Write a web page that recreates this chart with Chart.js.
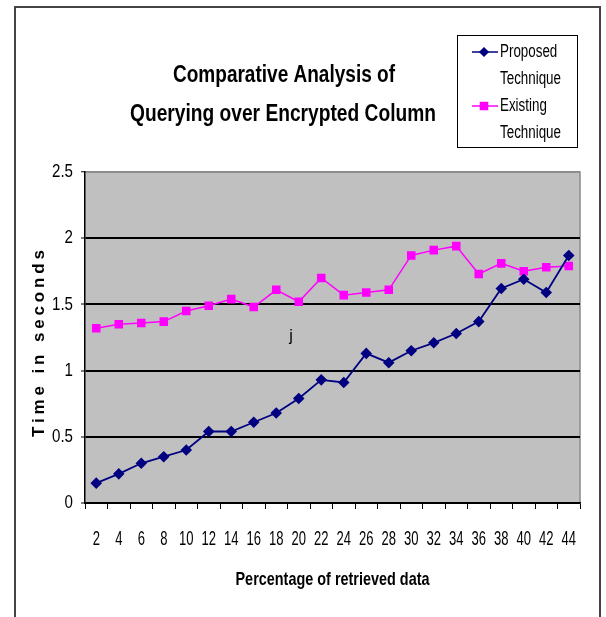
<!DOCTYPE html>
<html>
<head>
<meta charset="utf-8">
<script src="https://cdn.jsdelivr.net/npm/chart.js@4/dist/chart.umd.min.js"></script>
<style>
  html, body { margin: 0; padding: 0; background: #fff; }
  #wrap { width: 606px; height: 617px; position: relative; }
</style>
</head>
<body>
<div id="wrap"><canvas id="c" width="606" height="617"></canvas></div>
<script>
// ---- data ----
const categories = ['2','4','6','8','10','12','14','16','18','20','22','24','26','28','30','32','34','36','38','40','42','44'];
const proposed = [0.15,0.22,0.30,0.35,0.40,0.54,0.54,0.61,0.68,0.79,0.93,0.91,1.13,1.06,1.15,1.21,1.28,1.37,1.62,1.69,1.59,1.87];
const existing = [1.32,1.35,1.36,1.37,1.45,1.49,1.54,1.48,1.61,1.52,1.70,1.57,1.59,1.61,1.87,1.91,1.94,1.73,1.81,1.75,1.78,1.79];
const yTicks = [0, 0.5, 1, 1.5, 2, 2.5];
const titleLines = ['Comparative Analysis of', 'Querying over Encrypted Column'];
const legendLines = [['Proposed', 'Technique'], ['Existing', 'Technique']];
const seriesNames = ['Proposed Technique', 'Existing Technique'];
const xTitle = 'Percentage of retrieved data';
const yTitle = 'Time in seconds';
const strayText = 'j';

const BASE = "'Liberation Sans'";
const NAVY = '#000080';
const MAGENTA = '#FF00FF';

// ---- condensed text rendering (reference uses a narrow face) ----
const mctx = document.createElement('canvas').getContext('2d');
function measure(font, text) { mctx.font = font + ' ' + BASE; return mctx.measureText(text).width; }
const NARROW_CFG = {
  1: { k: 14.5 / measure('21px', '30'), ls: 0, dx: 0 },                          // x ticks
  2: { k: 21 / measure('19px', '2.5'), ls: 0, dx: 0 },                           // y ticks
  3: { k: 194 / measure('bold 19px', xTitle), ls: 0, dx: 0 },                    // x title
  4: { k: 1, ls: Math.max(0, (187 - measure('bold 17px', yTitle)) / 14), dx: -4 } // y title
};
const origFill = CanvasRenderingContext2D.prototype.fillText;
CanvasRenderingContext2D.prototype.fillText = function(text, x, y, maxWidth) {
  const m = /NX(\d+)/.exec(this.font);
  if (m && NARROW_CFG[m[1]]) {
    const cfg = NARROW_CFG[m[1]];
    this.save();
    this.translate(x + cfg.dx, y);
    this.scale(cfg.k, 1);
    if (cfg.ls) this.letterSpacing = cfg.ls.toFixed(2) + 'px';
    origFill.call(this, text, 0, 0);
    this.restore();
    return;
  }
  return origFill.call(this, text, x, y, maxWidth);
};
function fam(n) { return 'NX' + n + ', ' + BASE + ', Arial, sans-serif'; }

function drawFit(ctx, text, x, y, target) {
  const w = ctx.measureText(text).width;
  const k = target / w;
  ctx.save();
  ctx.translate(x, y);
  ctx.scale(k, 1);
  origFill.call(ctx, text, 0, 0);
  ctx.restore();
}

const decor = {
  id: 'decor',
  beforeDraw(chart) {
    const {ctx, chartArea: a} = chart;
    ctx.save();
    ctx.fillStyle = '#C0C0C0';
    ctx.fillRect(a.left, a.top, a.right - a.left, a.bottom - a.top);
    ctx.strokeStyle = '#8a8a8a';
    ctx.lineWidth = 1.5;
    ctx.beginPath();
    ctx.moveTo(a.left, a.top);
    ctx.lineTo(a.right, a.top);
    ctx.lineTo(a.right, a.bottom);
    ctx.stroke();
    ctx.restore();
  },
  afterDraw(chart) {
    const {ctx} = chart;
    ctx.save();
    // outer frame
    ctx.strokeStyle = '#444';
    ctx.lineWidth = 2;
    ctx.strokeRect(15, 7, 585, 700);
    // title
    ctx.fillStyle = '#000';
    ctx.textAlign = 'center';
    ctx.textBaseline = 'alphabetic';
    ctx.font = 'bold 23px ' + BASE;
    drawFit(ctx, titleLines[0], 284, 82, 222);
    drawFit(ctx, titleLines[1], 283, 121, 306);
    // legend box
    ctx.strokeStyle = '#000';
    ctx.lineWidth = 1;
    ctx.strokeRect(457.5, 35.5, 120, 112);
    const items = [
      {c: NAVY, s: 'rectRot', r: 4, y: 52, words: legendLines[0]},
      {c: MAGENTA, s: 'rect', r: 5, y: 106, words: legendLines[1]}
    ];
    ctx.font = '18px ' + BASE;
    const kLeg = 61 / ctx.measureText('Technique').width;
    ctx.textAlign = 'left';
    ctx.textBaseline = 'middle';
    items.forEach(it => {
      ctx.strokeStyle = it.c;
      ctx.lineWidth = 1.5;
      ctx.beginPath();
      ctx.moveTo(472, it.y);
      ctx.lineTo(498, it.y);
      ctx.stroke();
      ctx.fillStyle = it.c;
      Chart.helpers.drawPoint(ctx, {pointStyle: it.s, radius: it.r, borderWidth: 1}, 484, it.y);
      ctx.fillStyle = '#000';
      [0, 1].forEach(j => {
        const t = it.words[j];
        drawFit(ctx, t, 500, it.y + j * 27, ctx.measureText(t).width * kLeg);
      });
    });
    // stray character in the reference
    ctx.font = '16px ' + BASE;
    ctx.textAlign = 'center';
    ctx.textBaseline = 'middle';
    origFill.call(ctx, strayText, 291, 337);
    ctx.restore();
  }
};

new Chart(document.getElementById('c'), {
  type: 'line',
  data: {
    labels: categories,
    datasets: [
      {
        label: seriesNames[0], data: proposed,
        borderColor: NAVY, backgroundColor: NAVY,
        borderWidth: 1.8, pointStyle: 'rectRot', pointRadius: 4.5,
        pointBorderColor: NAVY, pointBackgroundColor: NAVY, tension: 0
      },
      {
        label: seriesNames[1], data: existing,
        borderColor: MAGENTA, backgroundColor: MAGENTA,
        borderWidth: 1.5, pointStyle: 'rect', pointRadius: 5,
        pointBorderColor: MAGENTA, pointBackgroundColor: MAGENTA, tension: 0
      }
    ]
  },
  options: {
    responsive: false,
    animation: false,
    devicePixelRatio: 1,
    layout: { padding: { top: 172, right: 26, left: 0, bottom: 0 } },
    plugins: { legend: { display: false }, title: { display: false }, tooltip: { enabled: false } },
    scales: {
      x: {
        type: 'category',
        offset: true,
        grid: { display: true, drawOnChartArea: false, drawTicks: true, tickLength: 6, color: '#000', offset: true, lineWidth: 1 },
        border: { display: true, color: '#000', width: 1.5 },
        ticks: { color: '#000', font: { family: fam(1), size: 21 }, padding: 18, maxRotation: 0, autoSkip: false },
        title: { display: true, text: xTitle, color: '#000', font: { family: fam(3), size: 19, weight: 'bold' }, padding: { top: 0, bottom: 26 } },
        afterFit(s) { s.height = 114; }
      },
      y: {
        min: 0, max: 2.5,
        afterBuildTicks(s) { s.ticks = yTicks.map(v => ({ value: v })); },
        grid: {
          color: c => (c.tick && c.tick.value === 2.5) ? '#8a8a8a' : '#000',
          lineWidth: c => (c.tick && c.tick.value === 2.5) ? 1.5 : 2,
          tickLength: 4, drawTicks: true,
          tickColor: '#000', tickWidth: 1
        },
        border: { display: true, color: '#000', width: 1.5 },
        ticks: { color: '#000', font: { family: fam(2), size: 19 }, padding: 8, callback: v => String(v) },
        title: { display: true, text: yTitle, color: '#000', font: { family: fam(4), size: 17, weight: 'bold' }, padding: { top: 29, bottom: 0 } },
        afterFit(s) { s.width = 85; }
      }
    }
  },
  plugins: [decor]
});
</script>
</body>
</html>
